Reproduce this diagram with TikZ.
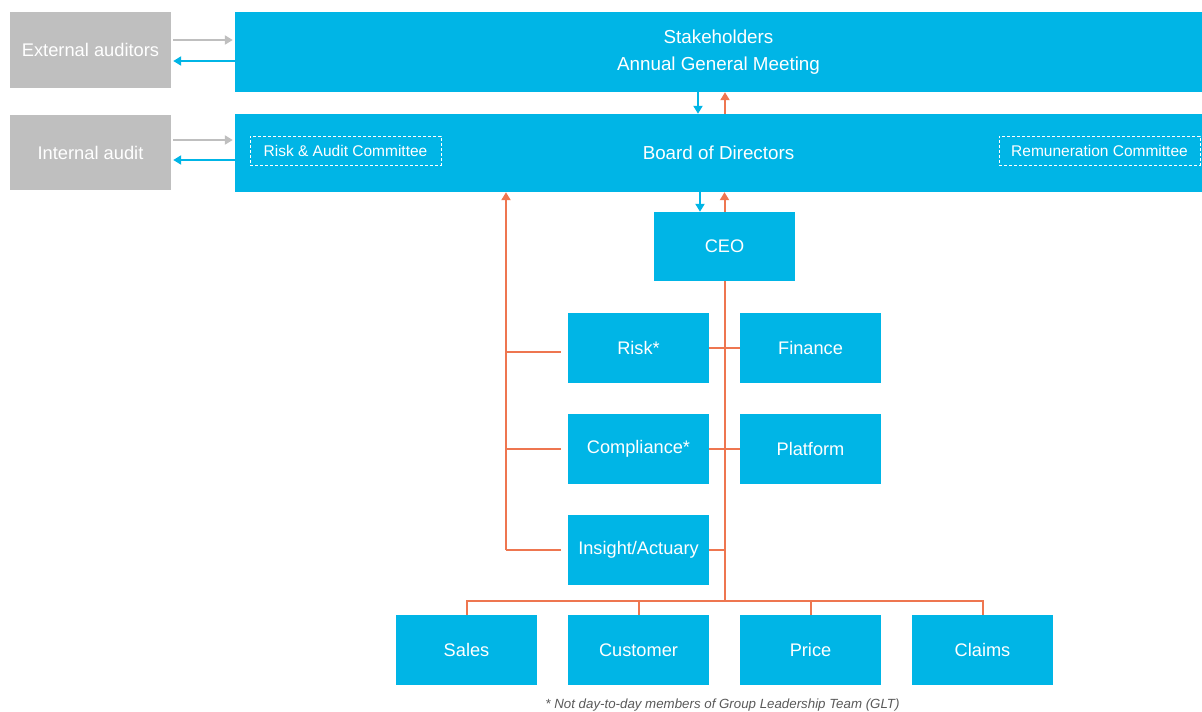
\documentclass[tikz,border=0pt]{standalone}
\usepackage{fontspec}
\setmainfont{Liberation Sans}
\usetikzlibrary{arrows.meta,calc}
\definecolor{cblue}{RGB}{0,181,230}
\definecolor{cgray}{RGB}{191,191,191}
\definecolor{corange}{RGB}{238,118,80}
\definecolor{cnote}{RGB}{89,89,89}
\tikzset{
  box/.style={fill=cblue, draw=none, text=white, inner sep=0pt, minimum width=141pt, minimum height=70pt, font=\fontsize{18.2}{21}\selectfont},
  graybox/.style={fill=cgray, draw=none, text=white, inner sep=0pt, minimum width=161pt, font=\fontsize{18.3}{21}\selectfont},
  wide/.style={fill=cblue, draw=none, text=white, inner sep=0pt, minimum width=967pt, font=\fontsize{18.8}{27}\selectfont, align=center},
  dbox/.style={draw=white, dash pattern=on 3pt off 2pt, line width=0.8pt, text=white, inner sep=0pt, minimum height=29pt, font=\fontsize{15.5}{18}\selectfont},
  tip/.style={-{Triangle[length=8pt,width=9pt]}, line width=2pt},
  grayarr/.style={tip, draw=cgray},
  bluearr/.style={tip, draw=cblue},
  orarr/.style={tip, draw=corange},
  orline/.style={draw=corange, line width=2pt},
}
\begin{document}
\begin{tikzpicture}[x=1pt,y=-1pt]
\useasboundingbox (0,0) rectangle (1202,712);
% boxes
\node[graybox, minimum height=76pt] (ext) at (90.5,50) {External auditors};
\node[graybox, minimum height=75pt] (int) at (90.5,152.5) {Internal audit};
\node[wide, minimum height=80pt] (stake) at (718.5,52) {Stakeholders\\Annual General Meeting};
\node[wide, minimum height=78pt] (board) at (718.5,153) {Board of Directors};
\node[dbox, minimum width=191pt] (rac) at (345.5,150.5) {Risk \& Audit Committee};
\node[dbox, minimum width=201pt] (rem) at (1099.5,150.5) {Remuneration Committee};
\node[box, minimum height=69pt] (ceo) at (724.5,246.5) {CEO};
\node[box] (risk) at (638.5,348) {Risk*};
\node[box] (finance) at (810.5,348) {Finance};
\node[box] (compliance) at (638.5,449) {Compliance*};
\node[box] (platform) at (810.5,449) {Platform};
\node[box] (insight) at (638.5,550) {Insight/Actuary};
\node[box] (sales) at (466.5,650) {Sales};
\node[box] (customer) at (638.5,650) {Customer};
\node[box] (price) at (810.5,650) {Price};
\node[box] (claims) at (982.5,650) {Claims};
\node[text=cnote, font=\fontsize{13.3}{15}\selectfont\itshape] (note) at (722.5,705) {* Not day-to-day members of Group Leadership Team (GLT)};
% side arrows
\draw[grayarr] ([xshift=2pt,yshift=10pt]ext.east) -- ([xshift=-2pt,yshift=12pt]stake.west);
\draw[bluearr] ([yshift=-9pt]stake.west) -- ([xshift=2pt,yshift=-11pt]ext.east);
\draw[grayarr] ([xshift=2pt,yshift=12.5pt]int.east) -- ([xshift=-2pt,yshift=13pt]board.west);
\draw[bluearr] ([yshift=-7pt]board.west) -- ([xshift=2pt,yshift=-7.5pt]int.east);
% vertical arrows
\draw[bluearr] ([xshift=-20.5pt]stake.south) -- ([xshift=-20.5pt]board.north);
\draw[orarr] ([xshift=6.5pt]board.north) -- ([xshift=6.5pt]stake.south);
\draw[bluearr] ([xshift=-18.5pt]board.south) -- ([xshift=-24.5pt]ceo.north);
\draw[orarr] (ceo.north) -- ([xshift=6pt]board.south);
% orange tree
\coordinate (j) at (724.5,601);
\draw[orline] (ceo.south) -- (j);
\draw[orline] (sales.north) -- (sales.north |- j) -- (claims.north |- j) -- (claims.north);
\draw[orline] (customer.north) -- (customer.north |- j);
\draw[orline] (price.north) -- (price.north |- j);
\draw[orline] (risk.east) -- (finance.west);
\draw[orline] (compliance.east) -- (platform.west);
\draw[orline] (insight.east) -- (insight.east -| j);
% left line
\coordinate (l) at (506,550);
\draw[orarr] (l) -- (l |- board.south);
\draw[orline] ([xshift=-7pt,yshift=-4pt]risk.west) -- ([yshift=-4pt]risk.west -| l);
\draw[orline] ([xshift=-7pt]compliance.west) -- (compliance.west -| l);
\draw[orline] ([xshift=-7pt]insight.west) -- (l);
\end{tikzpicture}
\end{document}
